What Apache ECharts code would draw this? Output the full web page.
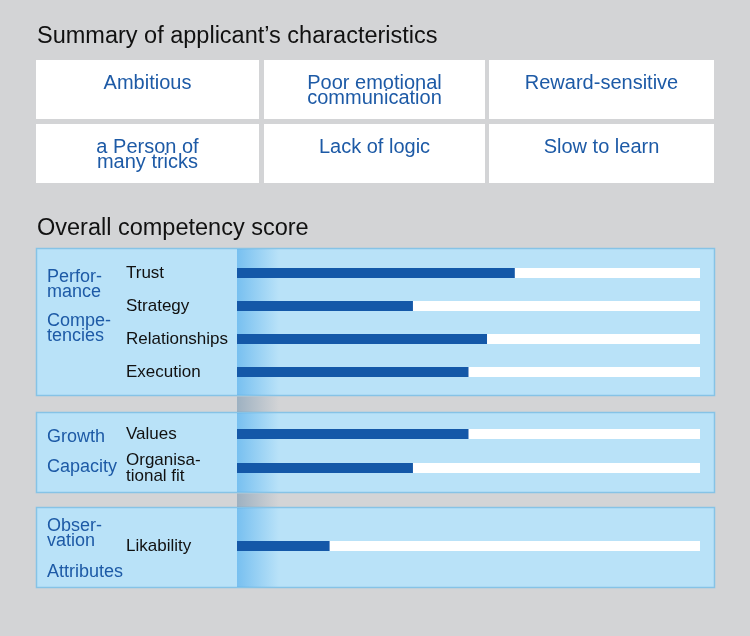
<!DOCTYPE html>
<html>
<head>
<meta charset="utf-8">
<script src="https://cdn.jsdelivr.net/npm/echarts@6/dist/echarts.min.js"></script>
<style>
  html, body { margin: 0; padding: 0; background: #d3d4d6; }
  #chart { width: 750px; height: 636px; }
</style>
</head>
<body>
<div id="chart"></div>
<script>
// texts and scores
const summaryTitle = 'Summary of applicant\u2019s characteristics'
const traits = [
  'Ambitious', 'Poor emotional\ncommunication', 'Reward-sensitive',
  'a Person of\nmany tricks', 'Lack of logic', 'Slow to learn'
]
const scoreTitle = 'Overall competency score'

const perfItems = ['Trust', 'Strategy', 'Relationships', 'Execution']
const perfScores = [60, 38, 54, 50]
const growthItems = ['Values', 'Organisa-\ntional fit']
const growthScores = [50, 38]
const obsItems = ['Likability']
const obsScores = [20]

const groupNames = [
  ['Perfor-\nmance', 'Compe-\ntencies'],
  ['Growth', 'Capacity'],
  ['Obser-\nvation', 'Attributes']
]

const FONT = '"Liberation Sans", Arial, Helvetica, sans-serif'
const BLUE_TEXT = '#1d5aa6'
const BAR = '#1458a8'

// layout of the three score panels
const panels = [
  { y: 248, h: 147, gridTop: 256.5, step: 33, items: perfItems, scores: perfScores, labelY: [277, 321] },
  { y: 412, h: 80, gridTop: 417, step: 34, items: growthItems, scores: growthScores, labelY: [437, 467] },
  { y: 507, h: 80, gridTop: 529, step: 34, items: obsItems, scores: obsScores, labelY: [526, 572] }
]
const barLeft = 237
const barRight = 700

const chart = echarts.init(document.getElementById('chart'))

const graphic = []

// titles
graphic.push({
  type: 'text', left: 37, top: 25, z: 5,
  style: { text: summaryTitle, font: '23.5px ' + FONT, fill: '#111' }
})
graphic.push({
  type: 'text', left: 37, top: 217, z: 5,
  style: { text: scoreTitle, font: '23.5px ' + FONT, fill: '#111' }
})

// characteristic boxes
const boxCols = [[36, 259], [264, 485], [489, 714]]
const boxRows = [[60, 119], [124, 183]]
traits.forEach((t, i) => {
  const c = boxCols[i % 3]
  const r = boxRows[Math.floor(i / 3)]
  graphic.push({
    type: 'rect', z: 0,
    shape: { x: c[0], y: r[0], width: c[1] - c[0], height: r[1] - r[0] },
    style: { fill: '#fff' }
  })
  graphic.push({
    type: 'text', z: 5,
    x: (c[0] + c[1]) / 2, y: r[0] + 16,
    style: {
      text: t, font: '20px ' + FONT, fill: BLUE_TEXT,
      align: 'center', verticalAlign: 'top', lineHeight: 15
    }
  })
})

// panels, shaded strip and group labels
panels.forEach((p, i) => {
  graphic.push({
    type: 'rect', z: 0,
    shape: { x: 36.5, y: p.y + 0.5, width: 678, height: p.h },
    style: { fill: '#b9e2f8', stroke: '#86c3e6', lineWidth: 1.5 }
  })
  graphic.push({
    type: 'rect', z: 1,
    shape: { x: barLeft, y: p.y + 1, width: 42, height: p.h - 1 },
    style: {
      fill: new echarts.graphic.LinearGradient(0, 0, 1, 0, [
        { offset: 0, color: 'rgba(40,150,230,0.45)' },
        { offset: 1, color: 'rgba(40,150,230,0)' }
      ])
    }
  })
  if (i < panels.length - 1) {
    const gapTop = p.y + p.h + 1.5
    const gapBottom = panels[i + 1].y
    graphic.push({
      type: 'rect', z: 1,
      shape: { x: barLeft, y: gapTop, width: 42, height: gapBottom - gapTop },
      style: {
        fill: new echarts.graphic.LinearGradient(0, 0, 1, 0, [
          { offset: 0, color: 'rgba(70,120,160,0.38)' },
          { offset: 1, color: 'rgba(70,120,160,0)' }
        ])
      }
    })
  }
  groupNames[i].forEach((g, j) => {
    graphic.push({
      type: 'text', z: 5,
      x: 47, y: p.labelY[j] - 8,
      style: {
        text: g, font: '18px ' + FONT, fill: BLUE_TEXT,
        verticalAlign: 'top', lineHeight: 15.5
      }
    })
  })
})

const option = {
  backgroundColor: '#d3d4d6',
  animation: false,
  graphic: graphic,
  grid: panels.map(p => ({
    left: barLeft,
    width: barRight - barLeft,
    top: p.gridTop,
    height: p.step * p.items.length
  })),
  xAxis: panels.map((p, i) => ({
    type: 'value', gridIndex: i, min: 0, max: 100, show: false
  })),
  yAxis: panels.map((p, i) => ({
    type: 'category', gridIndex: i, inverse: true,
    data: p.items,
    axisLine: { show: false },
    axisTick: { show: false },
    splitLine: { show: false },
    axisLabel: {
      align: 'left', margin: barLeft - 126,
      fontSize: 17, fontFamily: FONT, color: '#111', lineHeight: 16
    }
  })),
  series: panels.map((p, i) => ({
    type: 'bar', xAxisIndex: i, yAxisIndex: i, z: 3,
    data: p.scores,
    barWidth: 10,
    itemStyle: { color: BAR },
    showBackground: true,
    backgroundStyle: { color: '#fff' }
  }))
}

option && chart.setOption(option)
</script>
</body>
</html>
